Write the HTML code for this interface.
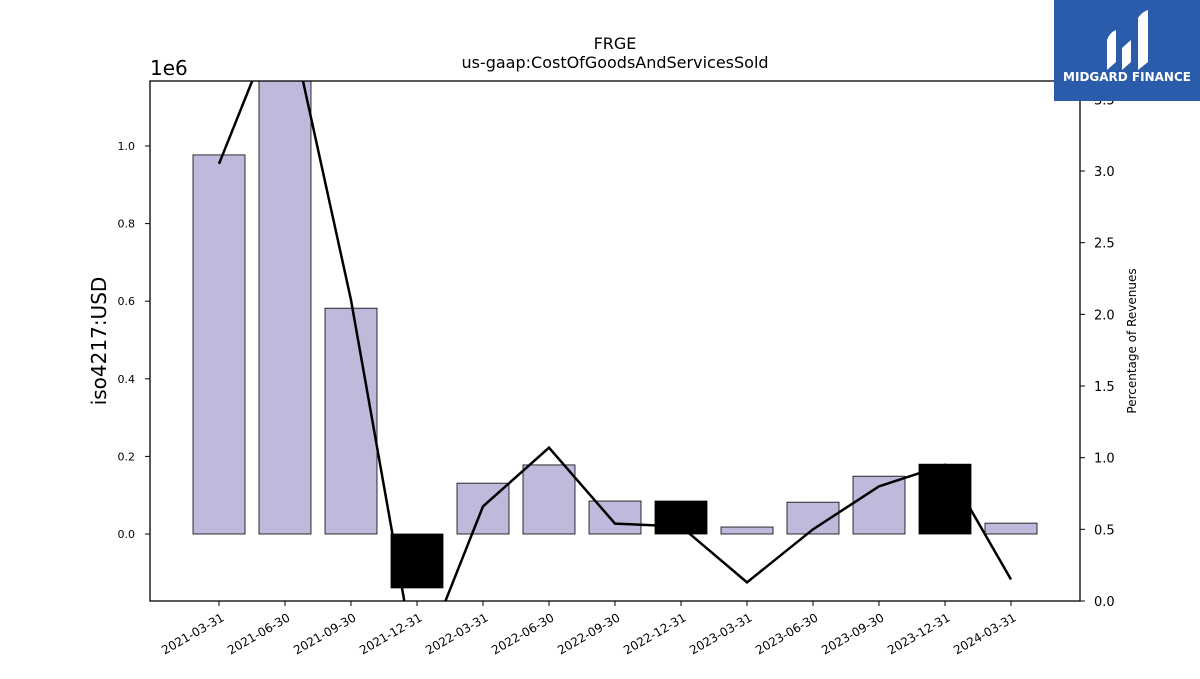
<!DOCTYPE html>
<html><head><meta charset="utf-8"><style>
body{margin:0;background:#fff;width:1200px;height:675px;overflow:hidden;font-family:"DejaVu Sans","Liberation Sans",sans-serif}
</style></head><body>
<svg id="chart" width="1200" height="675" viewBox="0 0 1200 675" xmlns="http://www.w3.org/2000/svg">
<text x="615" y="49" font-size="16" text-anchor="middle">FRGE</text>
<text x="615" y="68" font-size="16" text-anchor="middle">us-gaap:CostOfGoodsAndServicesSold</text>
<text x="150" y="75" font-size="20">1e6</text>
<text transform="translate(106,341) rotate(-90)" font-size="20" text-anchor="middle">iso4217:USD</text>
<text transform="translate(1136,341) rotate(-90)" font-size="12" text-anchor="middle">Percentage of Revenues</text>
<defs><clipPath id="pc"><rect x="150" y="81" width="930" height="520"/></clipPath></defs>
<g id="bars" clip-path="url(#pc)"></g>
<g id="line" clip-path="url(#pc)"></g>
<rect x="150" y="81" width="930" height="520" fill="none" stroke="#000" stroke-width="1.3"/>
<g id="axes"></g>
<g>
<rect x="1054" y="0" width="146" height="101" fill="#2b5cab"/>
<path d="M1107 70 L1107 40 Q1110 32 1116 30 L1116 62 Z M1122 70 L1122 48 L1131 40 L1131 62 Z M1138 70 L1138 18 Q1142 12 1148 10 L1148 62 Z" fill="#fff"/>
<text x="1127" y="81" font-size="12" font-weight="bold" fill="#fff" text-anchor="middle">MIDGARD FINANCE</text>
</g>
</svg>
<script>
const categories=["2021-03-31","2021-06-30","2021-09-30","2021-12-31","2022-03-31","2022-06-30","2022-09-30","2022-12-31","2023-03-31","2023-06-30","2023-09-30","2023-12-31","2024-03-31"];
const costValues=[0.977,1.25,0.582,-0.139,0.131,0.178,0.085,0.085,0.018,0.082,0.149,0.180,0.028];
const highlighted=[false,false,false,true,false,false,false,true,false,false,false,true,false];
const pctValues=[3.05,4.2,2.10,-0.5,0.66,1.07,0.54,0.52,0.13,0.50,0.80,0.95,0.15];
const leftTicks=[0.0,0.2,0.4,0.6,0.8,1.0];
const rightTicks=[0.0,0.5,1.0,1.5,2.0,2.5,3.0,3.5];
const NS="http://www.w3.org/2000/svg";
const x=i=>219+i*66;
const yL=v=>534-v*388;
const yR=v=>601-v*143.33;
function mk(t,a,p){const e=document.createElementNS(NS,t);for(const k in a)e.setAttribute(k,a[k]);p.appendChild(e);return e;}
const bars=document.getElementById('bars'),line=document.getElementById('line'),axes=document.getElementById('axes');
costValues.forEach((v,i)=>{
 const y0=yL(0),y1=yL(v);
 const r=mk('rect',{x:x(i)-26,y:Math.min(y0,y1),width:52,height:Math.abs(y1-y0),fill:highlighted[i]?'#000':'#bdbadb',stroke:'#000','stroke-width':0.8},bars);
 
 
});
const pl=mk('polyline',{points:pctValues.map((v,i)=>x(i)+','+yR(v)).join(' '),fill:'none',stroke:'#000','stroke-width':2.5},line);


leftTicks.forEach(t=>{
 mk('line',{x1:145,x2:150,y1:yL(t),y2:yL(t),stroke:'#000'},axes);
 const tx=mk('text',{x:135,y:yL(t)+4,'font-size':11,'text-anchor':'end'},axes);tx.textContent=t.toFixed(1);
 
 
});
rightTicks.forEach(t=>{
 mk('line',{x1:1080,x2:1085,y1:yR(t),y2:yR(t),stroke:'#000'},axes);
 const tx=mk('text',{x:1094,y:yR(t)+5,'font-size':13},axes);tx.textContent=t.toFixed(1);
 
 
});
categories.forEach((c,i)=>{
 mk('line',{x1:x(i),x2:x(i),y1:601,y2:606,stroke:'#000'},axes);
 const tx=mk('text',{transform:`translate(${x(i)+6},620) rotate(-30)`,'font-size':12,'text-anchor':'end'},axes);tx.textContent=c;
 
 
});
</script>
</body></html>
